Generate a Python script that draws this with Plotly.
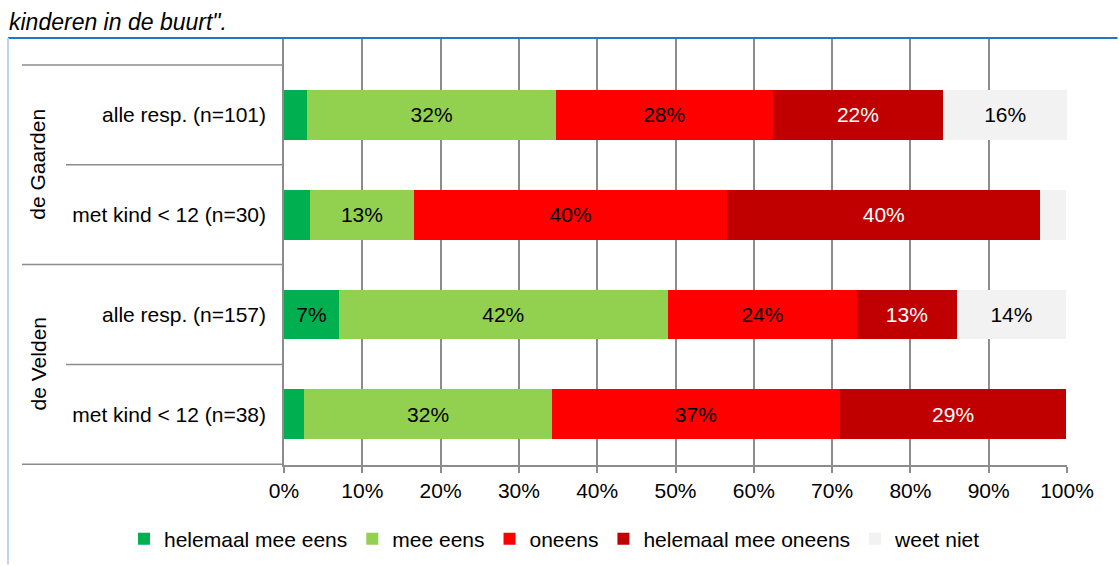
import plotly.graph_objects as go

categories = ["alle resp. (n=101)", "met kind < 12 (n=30)", "alle resp. (n=157)", "met kind < 12 (n=38)"]
groups = ["de Gaarden", "de Velden"]
series_names = ["helemaal mee eens", "mee eens", "oneens", "helemaal mee oneens", "weet niet"]
helemaal_mee_eens = [3.0, 3.3, 7.0, 2.6]
mee_eens = [31.7, 13.3, 42.0, 31.6]
oneens = [27.7, 40.0, 24.2, 36.8]
helemaal_mee_oneens = [21.8, 40.0, 12.7, 28.9]
weet_niet = [15.8, 3.3, 14.0, 0.0]
x_ticks = [0, 10, 20, 30, 40, 50, 60, 70, 80, 90, 100]
x_ticklabels = [f"{t}%" for t in x_ticks]
title_text = 'kinderen in de buurt".'

colors = ["#00B050", "#92D050", "#FF0000", "#C00000", "#F2F2F2"]
text_colors = ["black", "black", "black", "white", "black"]
all_series = [helemaal_mee_eens, mee_eens, oneens, helemaal_mee_oneens, weet_niet]

FONT = "Liberation Sans, Arial, sans-serif"
FS = 21
GRID = "#8C8C8C"
ROW_PX = 107  # one category step in pixels (428 px / 4 rows)

fig = go.Figure()
for name, vals, col, tcol in zip(series_names, all_series, colors, text_colors):
    fig.add_trace(go.Bar(
        y=categories, x=vals, name=name, orientation="h",
        marker=dict(color=col, line=dict(width=0)),
        text=[f"{round(v)}%" if v >= 5 else "" for v in vals],
        textposition="inside", insidetextanchor="middle", textangle=0,
        constraintext="none",
        textfont=dict(family=FONT, size=FS, color=tcol),
        width=0.5, hoverinfo="x+y+name",
    ))

shapes = []
# category dividers (left label area)
div_long = -262 / 783
div_short = -218 / 783
for yv, xs in [(-0.5, div_long), (0.5, div_short), (1.5, div_long), (2.5, div_short), (3.5, div_long)]:
    shapes.append(dict(type="line", xref="paper", yref="y", x0=xs, x1=0, y0=yv, y1=yv,
                       line=dict(color=GRID, width=1.5)))

frame_x = -276 / 783
frame_y = -0.5 - 29 / ROW_PX
annotations = []
for g, yv in zip(groups, [0.5, 2.5]):
    annotations.append(dict(text=g, xref="paper", yref="y", x=-246/783, y=yv,
                            textangle=-90, showarrow=False, xanchor="center", yanchor="middle",
                            font=dict(family=FONT, size=FS, color="black")))
# outer frame (top and left edge) drawn as head-less annotation arrows
annotations.append(dict(text="", xref="paper", yref="y", x=frame_x, y=frame_y,
                        showarrow=True, arrowhead=0, arrowwidth=2, arrowcolor="#1E78C8",
                        ax=1115, ay=0, standoff=0, startstandoff=0))
annotations.append(dict(text="", xref="paper", yref="y", x=frame_x, y=frame_y,
                        showarrow=True, arrowhead=0, arrowwidth=2, arrowcolor="#BDD3EE",
                        ax=0, ay=570, standoff=0, startstandoff=0))
annotations.append(dict(text=f"<i>{title_text}</i>", xref="paper", yref="y",
                        x=-277/783, y=-0.5 - 30 / ROW_PX, xanchor="left", yanchor="bottom",
                        showarrow=False,
                        font=dict(family=FONT, size=23, color="black")))

fig.update_layout(
    barmode="stack",
    width=1119, height=566,
    margin=dict(l=284, r=52, t=37, b=101, pad=0, autoexpand=False),
    paper_bgcolor="white", plot_bgcolor="white",
    font=dict(family=FONT, size=FS, color="black"),
    showlegend=True,
    legend=dict(orientation="h", x=-160/783, xanchor="left", y=-74/428, yanchor="middle",
                bgcolor="rgba(0,0,0,0)",
                font=dict(family=FONT, size=FS, color="black"), traceorder="normal",
                itemwidth=30),
    shapes=shapes, annotations=annotations,
    bargap=0.5,
)
fig.update_xaxes(range=[0, 100], tickvals=x_ticks, ticktext=x_ticklabels,
                 showgrid=True, gridcolor=GRID, gridwidth=1.5,
                 showline=True, linecolor=GRID, linewidth=1.5,
                 ticks="outside", ticklen=6, tickcolor=GRID, tickwidth=1.5,
                 ticklabelstandoff=0, automargin=False,
                 zeroline=False, fixedrange=True,
                 tickfont=dict(family=FONT, size=FS, color="black"))
fig.update_yaxes(type="category", categoryorder="array", categoryarray=categories,
                 autorange="reversed", showgrid=False, automargin=False,
                 showline=True, linecolor=GRID, linewidth=1.5, ticks="",
                 ticklabelstandoff=12, zeroline=False, fixedrange=True,
                 tickfont=dict(family=FONT, size=FS, color="black"))

fig.write_html(
    "out.html", config={"displayModeBar": False},
    post_script=(
        "document.body.style.margin='0';"
        "document.body.style.overflow='hidden';"
        "document.documentElement.style.overflow='hidden';"
        "window.scrollTo(0,0);"
    ),
)
